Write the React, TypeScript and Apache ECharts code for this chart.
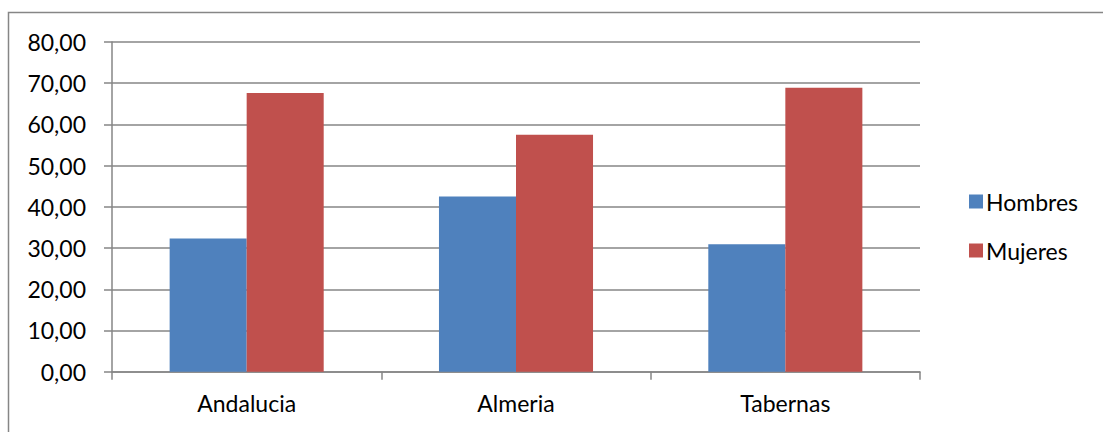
import React, { useEffect, useRef } from "react";
import * as echarts from "echarts";

const categories = ["Andalucia", "Almeria", "Tabernas"];
const hombres = [32.3, 42.5, 30.9];
const mujeres = [67.6, 57.5, 68.9];
const seriesNames = ["Hombres", "Mujeres"];

export default function App() {
  const ref = useRef<HTMLDivElement>(null);
  useEffect(() => {
    const chart = echarts.init(ref.current!, null, { renderer: "svg" });
    const font = "Lato, 'Open Sans', sans-serif";
    const fs = 23;
    chart.setOption({
      animation: false,
      textStyle: { fontFamily: font },
      graphic: [
        {
          type: "rect",
          shape: { x: 8.5, y: 12.5, width: 1300, height: 600 },
          style: { fill: "none", stroke: "#868686", lineWidth: 1.5 },
          silent: true,
        },
      ],
      grid: { left: 112, right: 183, top: 42, bottom: 60.3, containLabel: false },
      legend: {
        orient: "vertical",
        left: 964,
        top: 185,
        itemWidth: 14,
        itemHeight: 14,
        itemGap: 26,
        icon: "rect",
        data: seriesNames,
        textStyle: { fontSize: fs, color: "#000", fontFamily: font, lineHeight: 22, padding: [0, 0, 0, -2] },
      },
      xAxis: {
        type: "category",
        data: categories,
        axisLine: { lineStyle: { color: "#868686", width: 1.5 } },
        axisTick: { show: true, length: 8, alignWithLabel: false, lineStyle: { color: "#868686", width: 1.5 } },
        axisLabel: { fontSize: fs, color: "#000", margin: 20, fontFamily: font },
        splitLine: { show: false },
      },
      yAxis: {
        type: "value",
        min: 0,
        max: 80,
        interval: 10,
        axisLine: { show: true, lineStyle: { color: "#868686", width: 1.5 } },
        axisTick: { show: true, length: 8, lineStyle: { color: "#868686", width: 1.5 } },
        axisLabel: {
          fontSize: fs,
          color: "#000",
          margin: 26,
          fontFamily: font,
          formatter: (v: number) => v.toFixed(2).replace(".", ","),
        },
        splitLine: { show: true, lineStyle: { color: "#868686", width: 1.5 } },
      },
      series: [
        {
          name: seriesNames[0],
          type: "bar",
          data: hombres,
          barGap: "0%",
          barCategoryGap: "42.8%",
          itemStyle: { color: "#4f81bd" },
        },
        {
          name: seriesNames[1],
          type: "bar",
          data: mujeres,
          barGap: "0%",
          barCategoryGap: "42.8%",
          itemStyle: { color: "#c0504d" },
        },
      ],
    });
    return () => chart.dispose();
  }, []);
  return (
    <div
      ref={ref}
      style={{ position: "fixed", left: 0, top: 0, width: 1103, height: 432, background: "#fff" }}
    />
  );
}
